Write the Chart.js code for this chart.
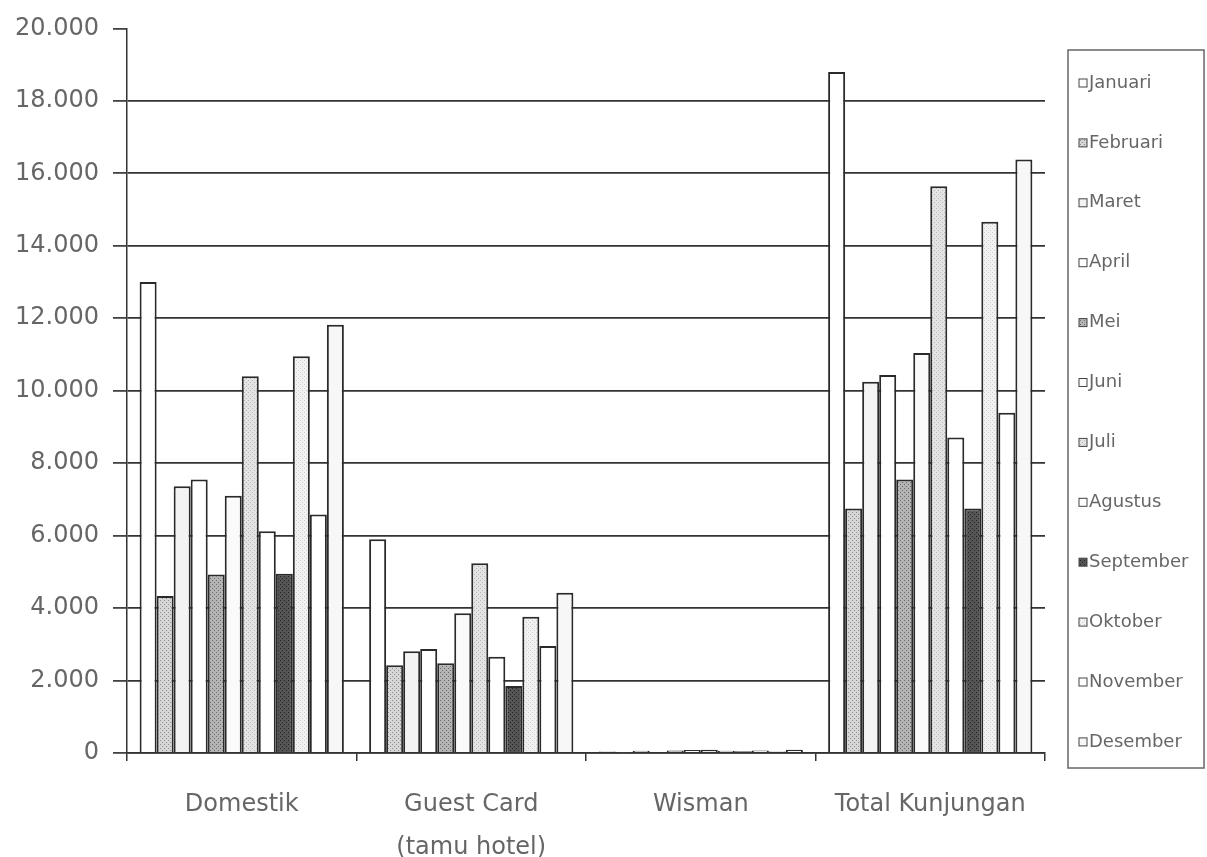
<!DOCTYPE html>
<html>
<head>
<meta charset="utf-8">
<title>Kunjungan</title>
<script src="https://cdn.jsdelivr.net/npm/chart.js@4.4.1/dist/chart.umd.min.js"></script>
<style>
  body { margin: 0; background: #fff; }
  canvas { display: block; }
</style>
</head>
<body>
<canvas id="chart" width="1207" height="857"></canvas>
<script>
// categories on the x axis
const categories = ["Domestik", ["Guest Card", "(tamu hotel)"], "Wisman", "Total Kunjungan"];
const months = ["Januari", "Februari", "Maret", "April", "Mei", "Juni", "Juli",
  "Agustus", "September", "Oktober", "November", "Desember"];

// values per category, one per month
const domestik = [13000, 4330, 7360, 7550, 4930, 7100, 10400, 6120, 4950, 10950, 6580, 11820];
const guestCard = [5900, 2420, 2810, 2870, 2480, 3860, 5240, 2660, 1850, 3760, 2950, 4420];
const wisman = [40, 20, 60, 30, 70, 80, 90, 60, 50, 70, 40, 90];
const totalKunjungan = [18800, 6750, 10250, 10430, 7550, 11040, 15640, 8710, 6750, 14660, 9390, 16380];

const yTicks = [0, 2000, 4000, 6000, 8000, 10000, 12000, 14000, 16000, 18000, 20000];

// small dotted fills like the printed patterns
function dots(base, dot) {
  var c = document.createElement("canvas");
  c.width = 4; c.height = 4;
  var g = c.getContext("2d");
  g.fillStyle = base;
  g.fillRect(0, 0, 4, 4);
  g.fillStyle = dot;
  g.fillRect(0, 0, 1, 1);
  g.fillRect(2, 2, 1, 1);
  return g.createPattern(c, "repeat");
}

const fills = [
  "#ffffff",
  dots("#d6d6d6", "#8f8f8f"),
  "#f3f3f3",
  "#ffffff",
  dots("#b4b4b4", "#6a6a6a"),
  "#fafafa",
  dots("#e4e4e4", "#b5b5b5"),
  "#ffffff",
  dots("#555555", "#222222"),
  dots("#f2f2f2", "#cccccc"),
  "#ffffff",
  "#f7f7f7",
];

const datasets = months.map(function (m, i) {
  return {
    label: m,
    data: [domestik[i], guestCard[i], wisman[i], totalKunjungan[i]],
    backgroundColor: fills[i],
    borderColor: "#2a2a2a",
    borderWidth: 2,
    categoryPercentage: 0.89,
    barPercentage: 1,
  };
});

// white page
const bgPlugin = {
  id: "bg",
  beforeDraw: function (chart) {
    var ctx = chart.ctx;
    ctx.save();
    ctx.fillStyle = "#fff";
    ctx.fillRect(0, 0, chart.width, chart.height);
    ctx.restore();
  },
};

// boxed legend on the right
const legendBox = {
  id: "legendBox",
  afterDraw: function (chart) {
    var ctx = chart.ctx;
    ctx.save();
    ctx.strokeStyle = "#666";
    ctx.lineWidth = 1.5;
    ctx.strokeRect(1068, 50, 136, 718);
    ctx.font = "18px 'DejaVu Sans'";
    ctx.textBaseline = "middle";
    ctx.textAlign = "left";
    chart.data.datasets.forEach(function (ds, i) {
      var y = 83 + i * 59.9;
      ctx.fillStyle = ds.backgroundColor;
      ctx.fillRect(1079, y - 4, 8, 8);
      ctx.strokeStyle = "#444";
      ctx.lineWidth = 1;
      ctx.strokeRect(1079, y - 4, 8, 8);
      ctx.fillStyle = "#666";
      ctx.fillText(ds.label, 1089, y);
    });
    ctx.restore();
  },
};

new Chart(document.getElementById("chart"), {
  type: "bar",
  data: { labels: categories, datasets: datasets },
  plugins: [bgPlugin, legendBox],
  options: {
    responsive: false,
    animation: false,
    layout: { padding: { top: 27, right: 162, bottom: 0, left: 0 } },
    plugins: { legend: { display: false }, tooltip: { enabled: false } },
    scales: {
      x: {
        offset: true,
        grid: { offset: true, drawOnChartArea: false, tickLength: 8, color: "#333", lineWidth: 1.5 },
        border: { color: "#333", width: 1.5 },
        ticks: {
          color: "#666",
          font: { family: "DejaVu Sans", size: 24, lineHeight: 1.8 },
          padding: 22,
          maxRotation: 0,
          autoSkip: false,
        },
        afterFit: function (s) { s.height = 104; },
      },
      y: {
        min: yTicks[0],
        max: yTicks[yTicks.length - 1],
        afterBuildTicks: function (s) {
          s.ticks = yTicks.map(function (v) { return { value: v }; });
        },
        grid: {
          color: function (c) {
            return c.tick && c.tick.value === 20000 ? "rgba(0,0,0,0)" : "#333";
          },
          tickColor: "#444",
          lineWidth: 1.8,
          tickLength: 14,
        },
        border: { color: "#333", width: 1.5 },
        ticks: {
          color: "#666",
          font: { family: "DejaVu Sans", size: 24 },
          padding: 14,
          callback: function (v) { return v.toLocaleString("de-DE"); },
        },
        afterFit: function (s) { s.width = 127; },
      },
    },
  },
});
</script>
</body>
</html>
